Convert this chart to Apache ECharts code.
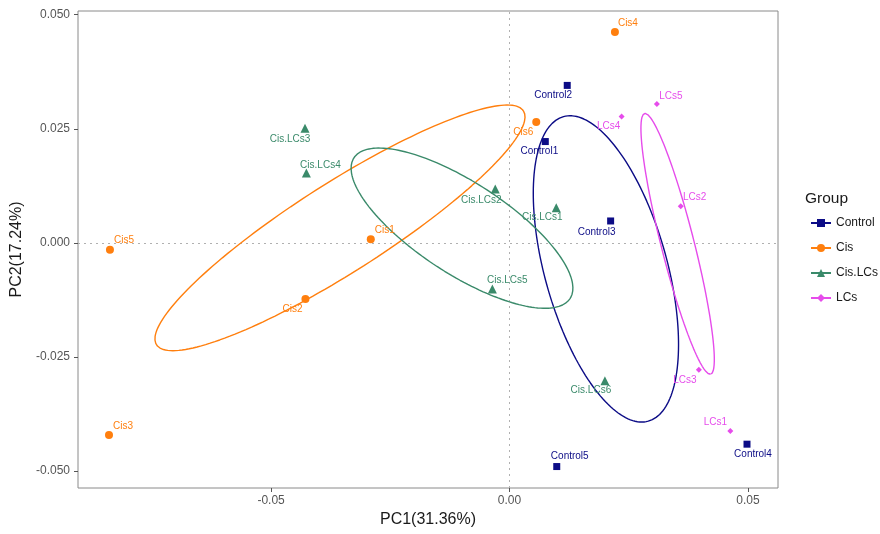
<!DOCTYPE html>
<html>
<head>
<meta charset="utf-8">
<script src="https://cdn.jsdelivr.net/npm/echarts@6/dist/echarts.min.js"></script>
<style>html,body{margin:0;padding:0;background:#fff}#c{width:880px;height:534px}</style>
</head>
<body>
<div id="c"></div>
<script>
// ---- data ----
const groups = ['Control', 'Cis', 'Cis.LCs', 'LCs'];

const controlNames = ['Control1', 'Control2', 'Control3', 'Control4', 'Control5'];
const controlX = [0.0075, 0.0121, 0.0212, 0.0498, 0.0099];
const controlY = [0.0222, 0.0345, 0.0048, -0.0441, -0.0490];

const cisNames = ['Cis1', 'Cis2', 'Cis3', 'Cis4', 'Cis5', 'Cis6'];
const cisX = [-0.0291, -0.0428, -0.0840, 0.0221, -0.0838, 0.0056];
const cisY = [0.0008, -0.0123, -0.0421, 0.0462, -0.0015, 0.0265];

const cislcsNames = ['Cis.LCs1', 'Cis.LCs2', 'Cis.LCs3', 'Cis.LCs4', 'Cis.LCs5', 'Cis.LCs6'];
const cislcsX = [0.0098, -0.0030, -0.0429, -0.0426, -0.0036, 0.0200];
const cislcsY = [0.0077, 0.0118, 0.0251, 0.0153, -0.0101, -0.0302];

const lcsNames = ['LCs1', 'LCs2', 'LCs3', 'LCs4', 'LCs5'];
const lcsX = [0.0463, 0.0359, 0.0397, 0.0235, 0.0309];
const lcsY = [-0.0412, 0.0080, -0.0278, 0.0277, 0.0304];

// ellipse parameters: [centerX, centerY, majorDX, majorDY, minorDX, minorDY]
const controlEllipse = [0.02021, -0.00570, 0.008888, -0.03336, -0.012369, -0.003593];
const cisEllipse = [-0.03556, 0.00329, 0.03848, 0.02561, 0.00504, -0.00826];
const cislcsEllipse = [-0.00997, 0.00322, 0.02266, -0.01542, -0.005237, -0.008386];
const lcsEllipse = [0.03525, -0.00022, 0.006924, -0.02856, -0.003357, -0.000887];

const xTicks = [-0.05, 0.00, 0.05];
const yTicks = [-0.050, -0.025, 0.000, 0.025, 0.050];
const xTitle = 'PC1(31.36%)';
const yTitle = 'PC2(17.24%)';

// ---- style (label offsets in px, kept apart from values) ----
const controlLabelOff = [[-6, 10], [-14, 10], [-14, 11], [6, 10], [13, -10]];
const cisLabelOff = [[14, -9], [-13, 10], [14, -9], [13, -9], [14, -9], [-13, 10]];
const cislcsLabelOff = [[-14, 10], [-14, 11], [-15, 11], [14, -8], [15, -9], [-14, 10]];
const lcsLabelOff = [[-15, -9], [14, -9], [-14, 10], [-13, 10], [14, -8]];

const colors = {Control: '#0c0c86', Cis: '#ff7f0e', 'Cis.LCs': '#3a8a6a', LCs: '#e64ceb'};
const symbols = {Control: 'rect', Cis: 'circle', 'Cis.LCs': 'triangle', LCs: 'diamond'};
const sizes = {Control: 7, Cis: 8, 'Cis.LCs': 9, LCs: 6};
const FONT = 'Liberation Sans, Arial, sans-serif';

function ellipse(e) {
  const pts = [];
  const n = 180;
  for (let i = 0; i <= n; i++) {
    const t = 2 * Math.PI * i / n;
    pts.push([e[0] + e[2] * Math.cos(t) + e[4] * Math.sin(t),
              e[1] + e[3] * Math.cos(t) + e[5] * Math.sin(t)]);
  }
  return pts;
}
function points(names, xs, ys, offs) {
  return names.map((nm, i) => ({
    name: nm, value: [xs[i], ys[i]],
    label: {offset: offs[i]}
  }));
}

const sets = [
  ['Control', controlNames, controlX, controlY, controlLabelOff, controlEllipse],
  ['Cis', cisNames, cisX, cisY, cisLabelOff, cisEllipse],
  ['Cis.LCs', cislcsNames, cislcsX, cislcsY, cislcsLabelOff, cislcsEllipse],
  ['LCs', lcsNames, lcsX, lcsY, lcsLabelOff, lcsEllipse]
];

const series = [];
sets.forEach(([g, names, xs, ys, offs, el], k) => {
  const s = {
    name: g, type: 'line', data: ellipse(el), showSymbol: false,
    symbol: symbols[g], symbolSize: sizes[g], smooth: false,
    lineStyle: {color: colors[g], width: 1.4}, itemStyle: {color: colors[g]},
    silent: true, z: 2
  };
  if (k === 0) {
    s.markLine = {
      silent: true, symbol: ['none', 'none'], label: {show: false},
      lineStyle: {color: '#b0b0b0', type: [2, 4], width: 1},
      data: [{xAxis: 0}, {yAxis: 0}], z: 1
    };
  }
  series.push(s);
});
sets.forEach(([g, names, xs, ys, offs]) => {
  series.push({
    name: g, type: 'scatter', data: points(names, xs, ys, offs),
    symbol: symbols[g], symbolSize: sizes[g],
    itemStyle: {color: colors[g], opacity: 1}, z: 5,
    label: {
      show: true, position: 'inside', formatter: p => p.name,
      color: colors[g], fontSize: 10, fontFamily: FONT,
      align: 'center', verticalAlign: 'middle'
    }
  });
});

const chart = echarts.init(document.getElementById('c'), null, {renderer: 'canvas'});
chart.setOption({
  animation: false,
  backgroundColor: '#fff',
  title: {
    text: 'Group', left: 800, top: 186,
    textStyle: {fontSize: 15.5, fontWeight: 'normal', color: '#1a1a1a', fontFamily: FONT}
  },
  legend: {
    data: groups, orient: 'vertical', left: 805, top: 212,
    itemWidth: 20, itemHeight: 10, itemGap: 13,
    textStyle: {fontSize: 12, color: '#1a1a1a', fontFamily: FONT},
    selectedMode: false
  },
  grid: {
    left: 78, right: 102, top: 11, bottom: 46, show: true,
    borderColor: '#8a8a8a', borderWidth: 1, backgroundColor: '#fff'
  },
  xAxis: {
    type: 'value', min: -0.0905, max: 0.0563, position: 'bottom',
    name: xTitle, nameLocation: 'middle', nameGap: 23,
    nameTextStyle: {fontSize: 16, color: '#1a1a1a', fontFamily: FONT},
    axisLine: {show: false, onZero: false},
    axisTick: {show: true, customValues: xTicks, length: 4, lineStyle: {color: '#555'}},
    axisLabel: {customValues: xTicks, formatter: v => v.toFixed(2), fontSize: 12, color: '#555', margin: 7, fontFamily: FONT},
    splitLine: {show: false}
  },
  yAxis: {
    type: 'value', min: -0.0537, max: 0.0508, position: 'left',
    name: yTitle, nameLocation: 'middle', nameGap: 53, nameRotate: 90,
    nameTextStyle: {fontSize: 16, color: '#1a1a1a', fontFamily: FONT},
    axisLine: {show: false, onZero: false},
    axisTick: {show: true, customValues: yTicks, length: 4, lineStyle: {color: '#555'}},
    axisLabel: {customValues: yTicks, formatter: v => v.toFixed(3), fontSize: 12, color: '#555', margin: 8, fontFamily: FONT},
    splitLine: {show: false}
  },
  series: series
});
</script>
</body>
</html>
